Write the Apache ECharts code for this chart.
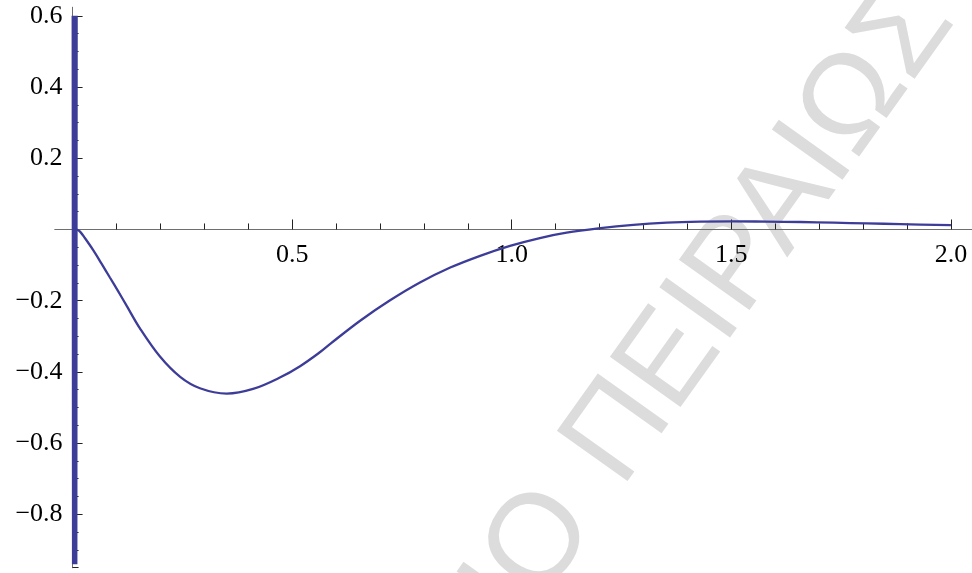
<!DOCTYPE html>
<html>
<head>
<meta charset="utf-8">
<script src="https://cdn.jsdelivr.net/npm/echarts@6/dist/echarts.min.js"></script>
<style>
  html, body { margin: 0; padding: 0; background: #ffffff; }
  #chart { width: 972px; height: 573px; }
</style>
</head>
<body>
<div id="chart"></div>
<script>
// Rapid oscillation squeezed against x = 0 (drawn as a dense zig-zag)
const bandX = [0.0000, 0.0008, 0.0016, 0.0024, 0.0032, 0.0040, 0.0048, 0.0056, 0.0064, 0.0072, 0.0080, 0.0088, 0.0096];
const bandY = [0.60, -0.94, 0.60, -0.94, 0.60, -0.94, 0.60, -0.94, 0.60, -0.94, 0.60, -0.94, 0.60];

// Smooth part of the curve
const curveX = [0.0096, 0.017, 0.028, 0.047, 0.066, 0.085, 0.104, 0.123, 0.153, 0.199, 0.245, 0.290, 0.351,
                0.411, 0.472, 0.518, 0.563, 0.586, 0.654, 0.723, 0.791, 0.860, 0.928, 0.996, 1.064,
                1.125, 1.197, 1.277, 1.353, 1.429, 1.505, 1.581, 1.657, 1.733, 1.809, 1.885, 2.000];
const curveY = [0.000, -0.006, -0.024, -0.058, -0.096, -0.135, -0.174, -0.214, -0.277, -0.357, -0.414, -0.446, -0.461,
                -0.448, -0.416, -0.384, -0.345, -0.322, -0.257, -0.199, -0.149, -0.107, -0.074, -0.046, -0.024,
                -0.009, 0.003, 0.013, 0.019, 0.022, 0.023, 0.022, 0.021, 0.019, 0.017, 0.015, 0.012];

// Axis ticks and labels
const xMinorTicks = [0.1, 0.2, 0.3, 0.4, 0.6, 0.7, 0.8, 0.9, 1.1, 1.2, 1.3, 1.4, 1.6, 1.7, 1.8, 1.9];
const xMajorTicks = [0.5, 1.0, 1.5, 2.0];
const xLabels = [0.5, 1.0, 1.5, 2.0];
const yMinorTicks = [-0.95, -0.9, -0.85, -0.75, -0.7, -0.65, -0.55, -0.5, -0.45, -0.35, -0.3, -0.25,
                     -0.15, -0.1, -0.05, 0.05, 0.1, 0.15, 0.25, 0.3, 0.35, 0.45, 0.5, 0.55];
const yMajorTicks = [-0.8, -0.6, -0.4, -0.2, 0.2, 0.4, 0.6];
const yLabels = [-0.8, -0.6, -0.4, -0.2, 0.2, 0.4, 0.6];

const X_MIN = -0.04, X_MAX = 2.048;
const Y_MIN = -0.95, Y_MAX = 0.624;

// Plot frame
const G_LEFT = 55, G_TOP = 7.3, G_W = 917, G_H = 560.4;
// Shift each axis from the frame edge onto the origin of the other axis
const X_AXIS_SHIFT = -(G_H * (0 - Y_MIN) / (Y_MAX - Y_MIN));
const Y_AXIS_SHIFT = -(G_W * (0 - X_MIN) / (X_MAX - X_MIN));

const AXIS_COLOR = '#6e6e6e';
const TICK_COLOR = '#222222';
const CURVE_COLOR = '#3d3d99';
const LABEL_FONT = '"Liberation Serif", "Times New Roman", serif';

const fmt = v => v.toFixed(1).replace('-', '\u2212');

function xAxisDef(ticks, len, withLabels) {
  return {
    type: 'value', min: X_MIN, max: X_MAX, position: 'bottom', offset: X_AXIS_SHIFT,
    axisLine: { show: true, onZero: false, lineStyle: { color: AXIS_COLOR, width: 1 } },
    axisTick: { show: true, inside: true, length: len, customValues: ticks, lineStyle: { color: TICK_COLOR, width: 1 } },
    axisLabel: withLabels ? {
      show: true, customValues: xLabels, formatter: fmt, margin: 13,
      color: '#000', fontFamily: LABEL_FONT, fontSize: 26
    } : { show: false },
    splitLine: { show: false }
  };
}
function yAxisDef(ticks, len, withLabels) {
  return {
    type: 'value', min: Y_MIN, max: Y_MAX, position: 'left', offset: Y_AXIS_SHIFT,
    axisLine: { show: true, onZero: false, lineStyle: { color: AXIS_COLOR, width: 1 } },
    axisTick: { show: true, inside: true, length: len, customValues: ticks, lineStyle: { color: TICK_COLOR, width: 1 } },
    axisLabel: withLabels ? {
      show: true, customValues: yLabels, formatter: fmt, margin: 10,
      color: '#000', fontFamily: LABEL_FONT, fontSize: 26
    } : { show: false },
    splitLine: { show: false }
  };
}

const chart = echarts.init(document.getElementById('chart'), null, { renderer: 'canvas' });
chart.setOption({
  animation: false,
  backgroundColor: '#ffffff',
  grid: { left: G_LEFT, top: G_TOP, width: G_W, height: G_H, containLabel: false, outerBoundsMode: 'none' },
  xAxis: [xAxisDef(xMajorTicks, 10, true), xAxisDef(xMinorTicks, 6, false)],
  yAxis: [yAxisDef(yMajorTicks, 10, true), yAxisDef(yMinorTicks, 6, false)],
  graphic: [{
    type: 'group', x: 625, y: 492, rotation: 54.5 * Math.PI / 180, z: -10, silent: true,
    children: [
      { type: 'text', x: 0, y: -39, z: -10,
        style: { text: 'ΠΕΙΡΑΙΩΣ', align: 'left', verticalAlign: 'middle',
                 font: '126px "Liberation Sans", Arial, sans-serif', fill: '#dcdcdc' } },
      { type: 'text', x: -41, y: -39, z: -10,
        style: { text: 'ΠΑΝΕΠΙΣΤΗΜΙΟ', align: 'right', verticalAlign: 'middle',
                 font: '126px "Liberation Sans", Arial, sans-serif', fill: '#dcdcdc' } }
    ]
  }],
  series: [
    {
      type: 'line', xAxisIndex: 0, yAxisIndex: 0, showSymbol: false, smooth: false, clip: true,
      data: bandX.map((x, i) => [x, bandY[i]]),
      lineStyle: { color: CURVE_COLOR, width: 2 }
    },
    {
      type: 'line', xAxisIndex: 0, yAxisIndex: 0, showSymbol: false, smooth: 0.35, clip: true,
      data: curveX.map((x, i) => [x, curveY[i]]),
      lineStyle: { color: CURVE_COLOR, width: 2.3 }
    }
  ]
});
</script>
</body>
</html>
